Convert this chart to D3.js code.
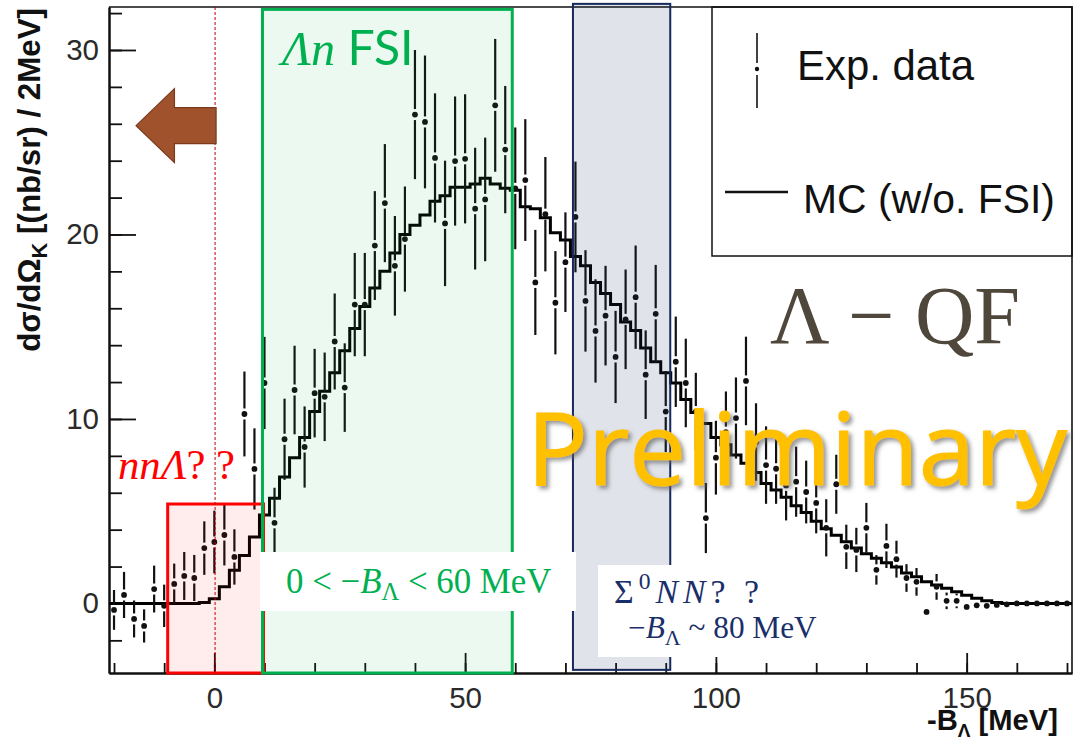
<!DOCTYPE html>
<html><head><meta charset="utf-8">
<script src="https://cdn.jsdelivr.net/npm/d3@7"></script>
<style>body{margin:0;background:#fff} svg{display:block}</style>
</head><body><svg id="c" width="1079" height="742"></svg>
<script>
// ---------------- data ----------------
const binCenters = [
  -20,-18,-16,-14,-12,-10,-8,-6,-4,-2,
  0,2,4,6,8,10,12,14,16,18,
  20,22,24,26,28,30,32,34,36,38,
  40,42,44,46,48,50,52,54,56,58,
  60,62,64,66,68,70,72,74,76,78,
  80,82,84,86,88,90,92,94,96,98,
  100,102,104,106,108,110,112,114,116,118,
  120,122,124,126,128,130,132,134,136,138,
  140,142,144,146,148,150,152,154,156,158,
  160,162,164,166,168,170];
const expValues = [
  -0.35,0.46,-0.84,-1.22,0.78,-0.13,1.06,1.49,1.38,3.0,
  3.33,3.71,2.52,10.27,7.29,11.95,4.37,8.9,11.57,8.48,
  11.4,11.2,14.2,11.7,16.2,16.2,19.4,21.7,18.3,19.75,
  26.5,26.1,24.15,20.6,23.98,24.1,21.4,21.9,27.0,24.6,
  22.5,22.95,17.4,21.1,16.3,18.5,20.95,16.4,14.77,15.6,
  13.36,15.4,16.6,12.4,15.7,10.4,13.1,11.95,10.4,4.63,
  7.9,9.29,10.05,12.06,8.75,7.5,7.3,6.4,6.6,6.04,
  5.45,4.1,6.46,3.07,2.9,4.1,1.82,3.12,2.4,1.38,
  1.17,-0.46,0.9,0.14,0.14,-0.19,-0.1,-0.13,-0.08,-0.05,
  0,0,0,0,0,0];
const expErrors = [
  1.08,1.25,1.0,0.9,1.27,1.15,1.1,1.3,1.25,1.45,
  1.7,1.65,1.5,2.3,2.2,2.5,1.9,2.2,2.4,2.2,
  2.4,2.4,2.6,2.4,2.8,2.8,2.95,3.2,2.7,2.85,
  3.5,3.6,3.5,3.4,3.5,3.5,3.3,3.35,3.6,3.45,
  3.3,3.3,2.85,3.1,2.8,2.7,3.0,2.75,2.8,2.7,
  2.5,2.7,2.8,2.4,2.65,2.2,2.45,2.4,2.1,1.9,
  2.0,2.2,2.2,2.4,2.1,2.1,1.9,1.9,1.9,1.7,
  1.65,1.55,1.6,1.2,1.2,1.35,0.8,1.2,1.0,0.75,
  0.75,0.3,0.7,0.45,0.4,0.3,0.25,0.25,0.2,0.15,
  0.1,0.1,0.1,0.1,0.1,0.1];
const mcValues = [
  0,0,0,0,0,0,0,0,0,0.05,
  0.25,0.9,1.8,2.6,3.6,4.8,5.7,6.86,7.9,9.0,
  10.4,11.5,12.5,13.7,14.9,16.1,17.1,18.0,19.0,20.0,
  20.5,21.06,21.8,22.1,22.56,22.56,22.74,23.05,22.74,22.5,
  22.4,21.5,21.4,20.9,20.1,19.7,18.8,18.3,17.4,16.8,
  16.2,15.25,14.8,13.85,13.1,12.5,11.95,11.05,10.35,9.75,
  9.0,8.6,8.05,7.6,7.1,6.5,6.15,5.75,5.3,4.93,
  4.45,4.05,3.7,3.35,3.0,2.7,2.45,2.2,1.97,1.65,
  1.45,1.17,1.0,0.83,0.63,0.45,0.28,0.15,0.05,0,
  0,0,0,0,0,0];
const binWidth = 2;
const xMinorTicks = [-20,-10,0,10,20,30,40,50,60,70,80,90,100,110,120,130,140,150,160,170];
const xMajorTicks = [0,50,100,150];
const yMinorTicks = [-2,0,2,4,6,8,10,12,14,16,18,20,22,24,26,28,30,32];
const yMajorTicks = [0,10,20,30];
const legendLabels = ["Exp. data","MC (w/o. FSI)"];

// ---------------- setup ----------------
const svg = d3.select("#c");
svg.append("rect").attr("width",1079).attr("height",742).attr("fill","#fff");
const defs = svg.append("defs");
defs.append("filter").attr("id","sh").attr("x","-10%").attr("y","-20%").attr("width","130%").attr("height","150%")
  .append("feDropShadow").attr("dx",3).attr("dy",3).attr("stdDeviation",2)
  .attr("flood-color","#5f5f5f").attr("flood-opacity",0.65);

const x = d3.scaleLinear().domain([-21,171]).range([109,1072]);
const y = d3.scaleLinear().domain([-3.77,32.33]).range([673,7]);

function fit(sel, target){
  const w = sel.node().getBBox().width;
  const fs = parseFloat(sel.attr("font-size"));
  sel.attr("font-size", fs*target/w);
}
function fitSpacing(sel, target, n){
  const w = sel.node().getBBox().width;
  sel.attr("letter-spacing", Math.max(0,(target-w)/n));
}

// legend box
svg.append("rect").attr("x",712).attr("y",7).attr("width",360).attr("height",249)
  .attr("fill","#fff").attr("stroke","#111").attr("stroke-width",1.5);

// frame top/right
svg.append("path").attr("d",`M${x(-21)},${y(32.33)}H${x(171)}V${y(-3.77)}`)
  .attr("fill","none").attr("stroke","#111").attr("stroke-width",1.6);

// axes
const axFont = "Liberation Sans, Arial, sans-serif";
const gy = svg.append("g").attr("transform",`translate(${x(-21)},0)`);
gy.call(d3.axisLeft(y).tickValues(yMinorTicks).tickSizeInner(-13).tickSizeOuter(0).tickFormat(""));
const gy2 = svg.append("g").attr("transform",`translate(${x(-21)},0)`);
gy2.call(d3.axisLeft(y).tickValues(yMajorTicks).tickSizeInner(-27).tickSizeOuter(0).tickPadding(10));
const gx = svg.append("g").attr("transform",`translate(0,${y(-3.77)})`);
gx.call(d3.axisBottom(x).tickValues(xMinorTicks).tickSizeInner(-10).tickSizeOuter(0).tickFormat(""));
const gx2 = svg.append("g").attr("transform",`translate(0,${y(-3.77)})`);
gx2.call(d3.axisBottom(x).tickValues(xMajorTicks).tickSizeInner(-20).tickSizeOuter(0).tickPadding(14));
[gy,gy2,gx,gx2].forEach(g=>{
  g.selectAll("path.domain").attr("stroke","#111").attr("stroke-width",2);
  g.selectAll(".tick line").attr("stroke","#111").attr("stroke-width",1.8);
  g.selectAll("text").attr("font-family",axFont).attr("font-size",29.5).attr("fill","#2a2a2a");
});

// axis titles
const yt = svg.append("text").attr("transform","translate(40,8) rotate(-90)")
  .attr("text-anchor","end").attr("font-family",axFont).attr("font-weight","bold")
  .attr("font-size",30).attr("fill","#111");
yt.append("tspan").text("dσ/dΩ");
yt.append("tspan").attr("font-size","0.7em").attr("dy","0.3em").text("K");
yt.append("tspan").attr("dy","-0.21em").text(" [(nb/sr) / 2MeV]");
fit(yt,344);

const xt = svg.append("text").attr("x",1058).attr("y",730)
  .attr("text-anchor","end").attr("font-family",axFont).attr("font-weight","bold")
  .attr("font-size",23).attr("fill","#111");
xt.append("tspan").text("-B");
xt.append("tspan").attr("font-size","0.65em").attr("dy","0.35em").text("Λ");
xt.append("tspan").attr("dy","-0.23em").text(" [MeV]");
fit(xt,131);

// MC histogram
const mcPts = binCenters.map((c,i)=>[c-binWidth/2, mcValues[i]]);
mcPts.push([binCenters[binCenters.length-1]+binWidth/2, mcValues[mcValues.length-1]]);
svg.append("path").datum(mcPts)
  .attr("d", d3.line().x(d=>x(d[0])).y(d=>y(d[1])).curve(d3.curveStepAfter))
  .attr("fill","none").attr("stroke","#000").attr("stroke-width",3);

// data points
const gap = 5.5;
const gp = svg.append("g");
binCenters.forEach((c,i)=>{
  const cx = x(c), cy = y(expValues[i]);
  const top = y(expValues[i]+expErrors[i]), bot = y(expValues[i]-expErrors[i]);
  if (cy-top > gap) gp.append("line").attr("x1",cx).attr("x2",cx).attr("y1",top).attr("y2",cy-gap);
  if (bot-cy > gap) gp.append("line").attr("x1",cx).attr("x2",cx).attr("y1",cy+gap).attr("y2",bot);
  gp.append("circle").attr("cx",cx).attr("cy",cy).attr("r",2.9).attr("fill","#111");
});
gp.selectAll("line").attr("stroke","#111").attr("stroke-width",2.2);

// legend content
svg.append("line").attr("x1",757).attr("x2",757).attr("y1",33).attr("y2",63).attr("stroke","#111").attr("stroke-width",1.6);
svg.append("line").attr("x1",757).attr("x2",757).attr("y1",75).attr("y2",108).attr("stroke","#111").attr("stroke-width",1.6);
svg.append("circle").attr("cx",757).attr("cy",69).attr("r",2.2).attr("fill","#111");
svg.append("line").attr("x1",725).attr("x2",788).attr("y1",192).attr("y2",192).attr("stroke","#111").attr("stroke-width",2.5);
const l1 = svg.append("text").attr("x",797).attr("y",80).attr("font-family",axFont).attr("font-size",38).attr("fill","#111").text(legendLabels[0]);
fit(l1,178);
const l2 = svg.append("text").attr("x",803).attr("y",213).attr("font-family",axFont).attr("font-size",38).attr("fill","#111").text(legendLabels[1]);
fit(l2,252);

// annotation boxes (drawn over the plot, translucent)
function box(x0,x1,yTop,yBot,fill,fop,stroke,sw){
  svg.append("rect").attr("x",x(x0)).attr("y",yTop).attr("width",x(x1)-x(x0)).attr("height",yBot-yTop)
    .attr("fill",fill).attr("fill-opacity",fop).attr("stroke",stroke).attr("stroke-width",sw);
}
box(-9.3,9.8,y(5.39),y(-3.77),"#ff0000",0.075,"#ff0000",3);
box(9.6,59.4,y(32.2),y(-3.77),"#00b050",0.08,"#00b050",3);
box(71.5,90.9,y(32.5),y(-3.6),"#203864",0.14,"#16295e",2);

// red dashed line
svg.append("line").attr("x1",x(0.15)).attr("x2",x(0.15)).attr("y1",y(32.33)).attr("y2",y(-3.77))
  .attr("stroke","#c00000").attr("stroke-width",1).attr("stroke-dasharray","3,2");

// brown arrow
const ay = y(25.9), ax0 = x(-15.6), ax1 = x(-7.95), ax2 = x(0.35);
svg.append("path").attr("d",`M${ax0},${ay} L${ax1},${ay-37} V${ay-18} H${ax2} V${ay+18} H${ax1} V${ay+37} Z`)
  .attr("fill","#a0522d").attr("stroke","#7b3a1c").attr("stroke-width",1.2);

// white label boxes
svg.append("rect").attr("x",260).attr("y",552).attr("width",316).attr("height",59).attr("fill","#fff");
svg.append("rect").attr("x",598).attr("y",565).attr("width",237).attr("height",92).attr("fill","#fff");

const serif = "Liberation Serif, Times New Roman, serif";
// 0 < -B_Λ < 60 MeV
const t1 = svg.append("text").attr("x",286).attr("y",593).attr("font-family",serif).attr("font-size",30).attr("fill","#00b050");
t1.append("tspan").text("0 < −");
t1.append("tspan").attr("font-style","italic").text("B");
t1.append("tspan").attr("font-size","0.7em").attr("dy","0.3em").text("Λ");
t1.append("tspan").attr("dy","-0.21em").text(" < 60 MeV");
fit(t1,266);

// -B_Λ ~ 80 MeV
const t3 = svg.append("text").attr("x",628).attr("y",638).attr("font-family",serif).attr("font-size",26).attr("fill","#1a2f6a");
t3.append("tspan").text("−");
t3.append("tspan").attr("font-style","italic").text("B");
t3.append("tspan").attr("font-size","0.7em").attr("dy","0.3em").text("Λ");
t3.append("tspan").attr("dy","-0.21em").text(" ~ 80 MeV");
fit(t3,189);
// Σ0NN??
const t2 = svg.append("text").attr("x",614).attr("y",603).attr("font-family",serif)
  .attr("font-size",parseFloat(t3.attr("font-size"))*1.08).attr("fill","#1a2f6a");
t2.append("tspan").text("Σ");
t2.append("tspan").attr("font-size","0.7em").attr("dy","-0.6em").text("0");
t2.append("tspan").attr("font-style","italic").attr("dy","0.42em").text("NN");
t2.append("tspan").text("? ?");
fitSpacing(t2,150,7);

// Λn FSI
const t4 = svg.append("text").attr("x",282).attr("y",65).attr("font-size",44).attr("fill","#00b050");
t4.append("tspan").attr("font-family",serif).attr("font-style","italic").text("Λn");
t4.append("tspan").attr("font-family","Lato, Open Sans, sans-serif").text(" FSI");
fit(t4,136);

// nnΛ? ?
const t5 = svg.append("text").attr("x",118).attr("y",479).attr("font-family",serif).attr("font-style","italic")
  .attr("font-size",38).attr("fill","#ff0000");
t5.append("tspan").text("nnΛ");
t5.append("tspan").attr("font-style","normal").text("? ?");
fit(t5,117);

// Λ − QF
const t6 = svg.append("text").attr("x",770).attr("y",343).attr("font-family",serif).attr("font-size",80)
  .attr("fill","#4f473b").text("Λ − QF");
fit(t6,250);

// Preliminary
const t7 = svg.append("text").attr("x",527).attr("y",485).attr("font-family","Open Sans, sans-serif")
  .attr("font-size",96).attr("fill","#ffc000").attr("stroke","#ffc000").attr("stroke-width",1.2)
  .attr("filter","url(#sh)").text("Preliminary");
fit(t7,541);
</script></body></html>
